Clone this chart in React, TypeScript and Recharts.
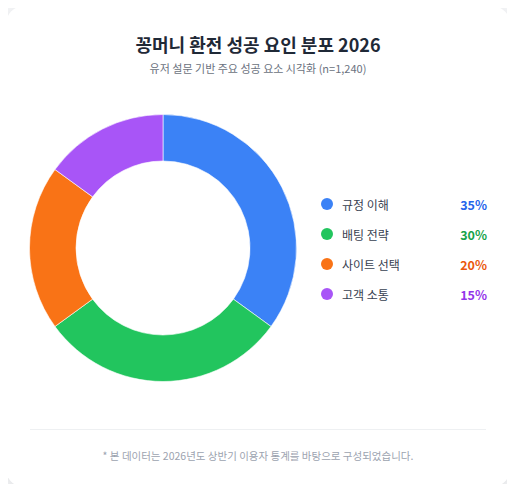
import React from "react";
import { PieChart, Pie, Cell } from "recharts";

const categories = ["규정 이해", "배팅 전략", "사이트 선택", "고객 소통"];
const values = [35, 30, 20, 15];
const sliceColors = ["#3b82f6", "#22c55e", "#f97316", "#a855f7"];
const textColors = ["#2563eb", "#16a34a", "#ea580c", "#9333ea"];

const data = categories.map((name, i) => ({ name, value: values[i] }));

const FONT = "'Noto Sans CJK KR', 'Noto Sans', sans-serif";

export default function App() {
  return (
    <div
      style={{
        position: "relative",
        width: 515,
        height: 492,
        margin: -8,
        background: "#f3f4f6",
        fontFamily: FONT,
        overflow: "hidden",
      }}
    >
      <div
        style={{
          position: "absolute",
          left: 6,
          top: 6,
          width: 504,
          height: 481,
          background: "#ffffff",
          borderRadius: 18,
          boxShadow: "0 4px 12px rgba(0,0,0,0.07)",
        }}
      />
      <div
        style={{
          position: "absolute",
          left: 6,
          width: 504,
          top: 31,
          textAlign: "center",
          fontSize: 18,
          fontWeight: 700,
          color: "#1f2937",
          lineHeight: "26px",
        }}
      >
        꽁머니 환전 성공 요인 분포 2026
      </div>
      <div
        style={{
          position: "absolute",
          left: 6,
          width: 504,
          top: 60,
          textAlign: "center",
          fontSize: 11,
          color: "#6b7280",
          lineHeight: "16px",
        }}
      >
        유저 설문 기반 주요 성공 요소 시각화 (n=1,240)
      </div>
      <div style={{ position: "absolute", left: 8, top: 93 }}>
        <PieChart width={310} height={310} margin={{ top: 5, right: 5, bottom: 5, left: 5 }}>
          <Pie
            data={data}
            dataKey="value"
            nameKey="name"
            cx={150}
            cy={150}
            innerRadius={87}
            outerRadius={133.5}
            startAngle={90}
            endAngle={-270}
            stroke="#ffffff"
            strokeWidth={0.6}
            isAnimationActive={false}
          >
            {data.map((d, i) => (
              <Cell key={d.name} fill={sliceColors[i]} />
            ))}
          </Pie>
        </PieChart>
      </div>
      {data.map((d, i) => (
        <div
          key={d.name}
          style={{
            position: "absolute",
            left: 321,
            top: 195 + i * 30,
            width: 166,
            height: 18,
            display: "flex",
            alignItems: "center",
          }}
        >
          <span
            style={{
              width: 12,
              height: 12,
              borderRadius: 6,
              background: sliceColors[i],
              display: "inline-block",
              flexShrink: 0,
            }}
          />
          <span
            style={{
              marginLeft: 9,
              fontSize: 12,
              color: "#374151",
              flex: 1,
            }}
          >
            {d.name}
          </span>
          <span
            style={{
              fontSize: 12.5,
              fontWeight: 700,
              color: textColors[i],
            }}
          >
            {d.value}%
          </span>
        </div>
      ))}
      <div
        style={{
          position: "absolute",
          left: 30,
          width: 456,
          top: 429,
          height: 1,
          background: "#eef0f2",
        }}
      />
      <div
        style={{
          position: "absolute",
          left: 6,
          width: 504,
          top: 448,
          textAlign: "center",
          fontSize: 10.5,
          color: "#9ca3af",
          lineHeight: "16px",
        }}
      >
        * 본 데이터는 2026년도 상반기 이용자 통계를 바탕으로 구성되었습니다.
      </div>
    </div>
  );
}
